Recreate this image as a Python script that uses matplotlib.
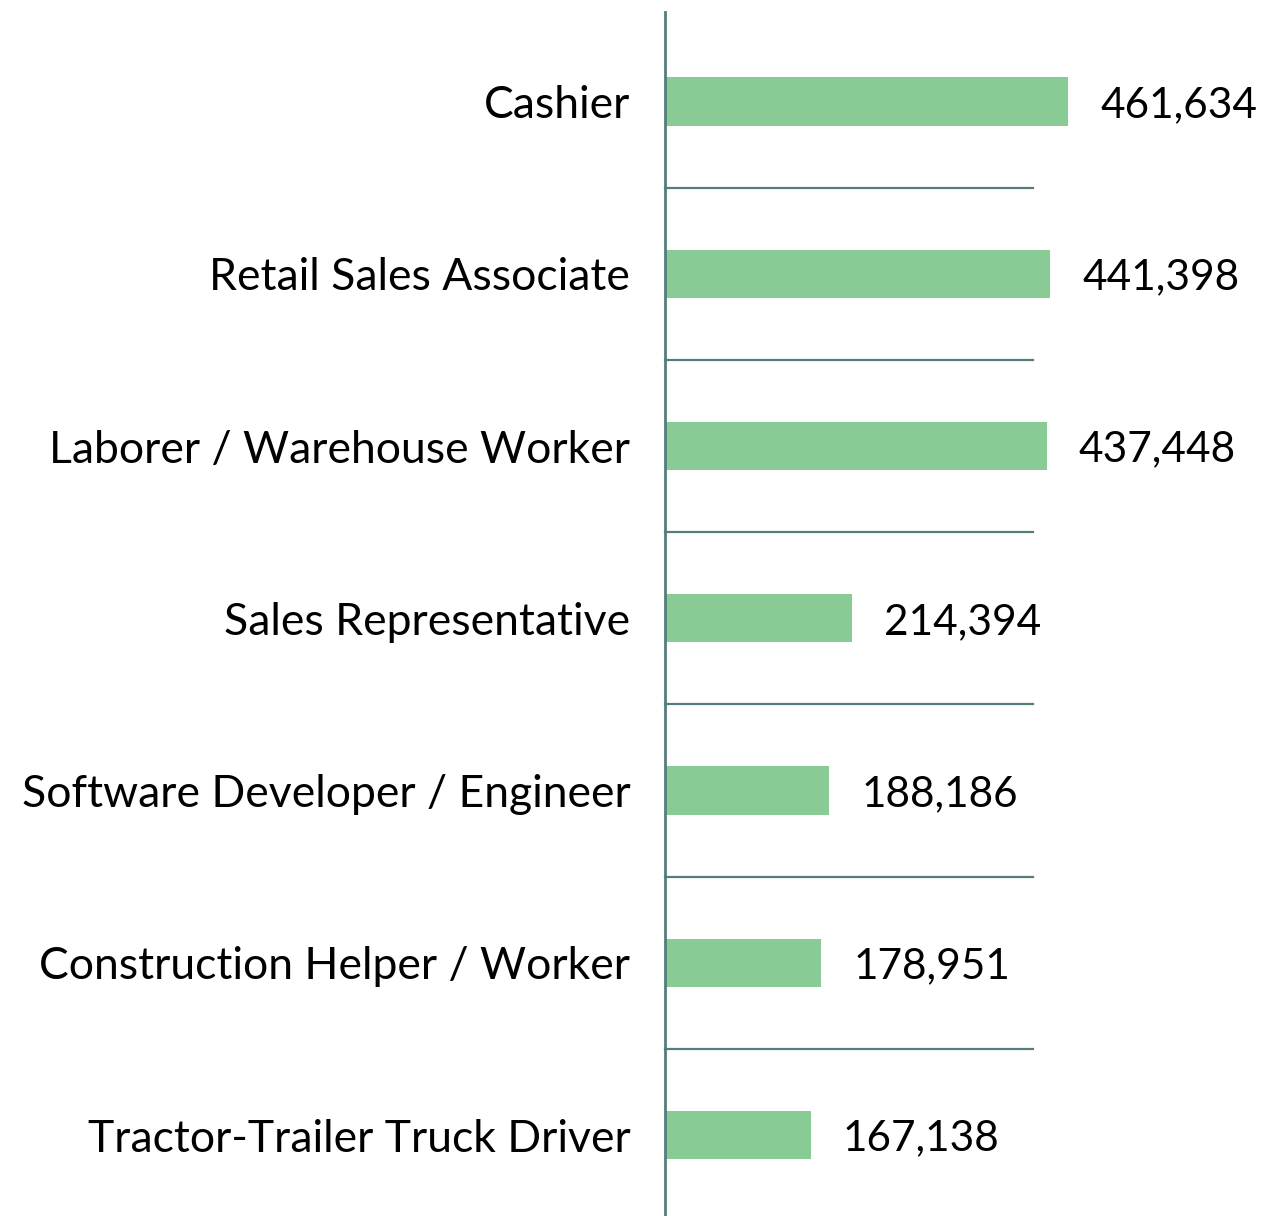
import matplotlib
matplotlib.use("Agg")
import matplotlib.pyplot as plt

jobs = [
    "Cashier",
    "Retail Sales Associate",
    "Laborer / Warehouse Worker",
    "Sales Representative",
    "Software Developer / Engineer",
    "Construction Helper / Worker",
    "Tractor-Trailer Truck Driver",
]
counts = [461634, 441398, 437448, 214394, 188186, 178951, 167138]

bar_color = "#88CB95"
line_color = "#547E7C"

plt.rcParams["font.family"] = ["Lato", "DejaVu Sans"]

fig = plt.figure(figsize=(12.65, 12.16), dpi=100)
# axes: left edge at x=665px, from y=12px down to the bottom
ax = fig.add_axes([665 / 1265, 0.0, 368 / 1265, 1 - 12 / 1216])

pos = list(range(len(jobs)))
bars = ax.barh(pos, counts, height=0.28, color=bar_color, zorder=2)
for b in bars:
    b.set_clip_on(False)

# separators between categories
for i in range(len(jobs) - 1):
    ax.plot([0, 421500], [i + 0.5, i + 0.5], color=line_color, lw=1.6,
            clip_on=False, zorder=1)

for i, v in enumerate(counts):
    ax.annotate(f"{v:,}", xy=(v, i), xytext=(32, 0), textcoords="offset pixels",
                va="center_baseline", ha="left", fontsize=30.5, color="black",
                annotation_clip=False)

ax.set_yticks(pos)
ax.set_yticklabels(jobs, fontsize=32, va="center_baseline")
ax.tick_params(axis="y", length=0, pad=25)
ax.set_ylim(6.47, -0.52)
ax.set_xlim(0, 421500)
ax.set_xticks([])

for s in ["top", "right", "bottom"]:
    ax.spines[s].set_visible(False)
ax.spines["left"].set_color(line_color)
ax.spines["left"].set_linewidth(2)
ax.patch.set_visible(False)

fig.savefig("out.png", dpi=100)
